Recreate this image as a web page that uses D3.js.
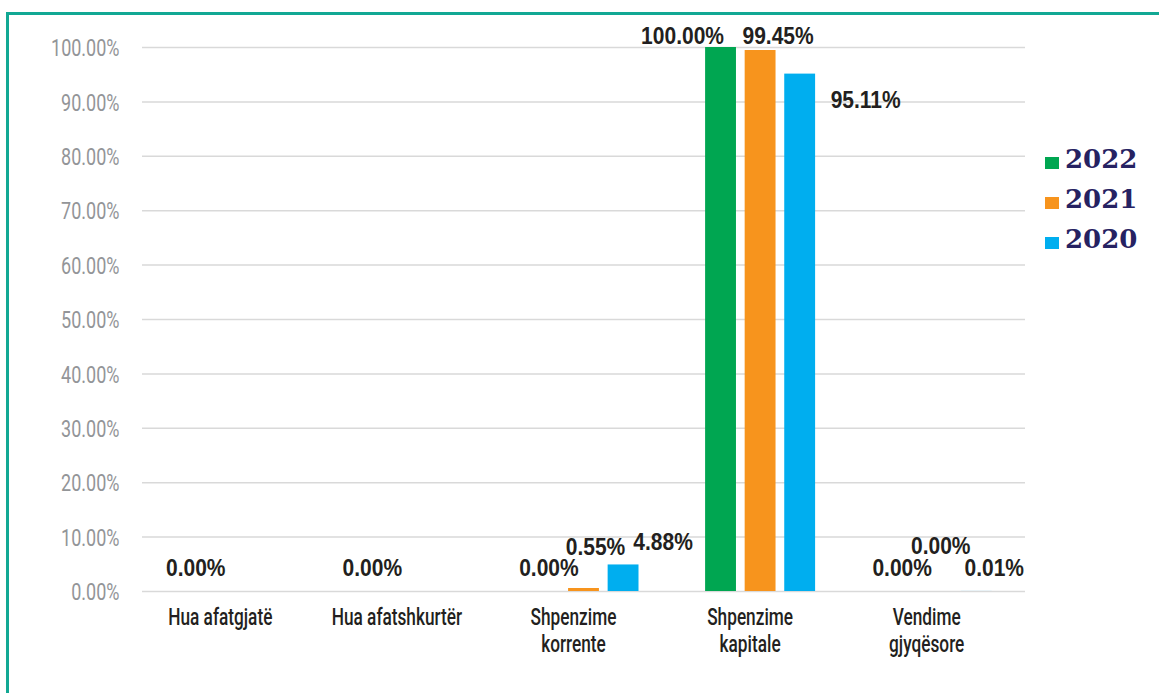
<!DOCTYPE html>
<html>
<head>
<meta charset="utf-8">
<script src="https://cdn.jsdelivr.net/npm/d3@7"></script>
<style>
    body { margin: 0; background: #fff; }
    .tick-label { font-family: "Roboto", sans-serif; font-size: 24px; fill: #939598; }
    .cat-label { font-family: "Roboto", sans-serif; font-weight: 500; font-size: 23px; fill: #231f20; }
    .value-label { font-family: "Liberation Sans", Arial, sans-serif; font-weight: bold; font-size: 24px; fill: #231f20; }
    .legend-text { font-family: "DejaVu Serif", serif; font-weight: bold; font-size: 26px; fill: #262262; }
</style>
</head>
<body>
<div id="chart"></div>
<script>
// data (percent)
var categories = [["Hua afatgjatë"], ["Hua afatshkurtër"], ["Shpenzime", "korrente"], ["Shpenzime", "kapitale"], ["Vendime", "gjyqësore"]]
var years = ["2022", "2021", "2020"]
var values2022 = [0, 0, 0, 100, 0]
var values2021 = [0, 0, 0.55, 99.45, 0]
var values2020 = [0, 0, 4.88, 95.11, 0.01]
var yTicks = [0, 10, 20, 30, 40, 50, 60, 70, 80, 90, 100]

// where the labels were dragged to in the original (px from default spot), null = hidden
var labelNudge = {
    "2022": [[5, -9], [5, -9], [5, -9], [-38, 3], [5, -9]],
    "2021": [null, null, [12, -27], [18, 0], [4, -31]],
    "2020": [null, null, [40, -8], [66, 40], [18, -9]]
}

// fonts here are wider than the condensed face in the original, squeeze them
var tickSqueeze = 0.75,
    catSqueeze = 0.75,
    valueSqueeze = 0.875

var config = { width: 1159, height: 693 }
var margin = { left: 142, right: 134, top: 47, bottom: 102 }
var width = config.width - margin.left - margin.right,
    height = config.height - margin.top - margin.bottom

var seriesValues = { "2022": values2022, "2021": values2021, "2020": values2020 }
var color = d3.scaleOrdinal()
    .domain(years)
    .range(["#00a651", "#f7941d", "#00aeef"])

var svg = d3.select("#chart")
    .append("svg")
        .attr("width", config.width)
        .attr("height", config.height)

// teal frame, right and bottom edges fall outside the picture
svg.append("rect")
    .attr("x", 7.5)
    .attr("y", 13.5)
    .attr("width", config.width + 20)
    .attr("height", config.height + 20)
    .attr("fill", "none")
    .attr("stroke", "#12a894")
    .attr("stroke-width", 3)

var g = svg.append("g")
    .attr("transform", "translate(" + margin.left + "," + margin.top + ")")

var x = d3.scaleBand()
    .domain(d3.range(categories.length))
    .range([0, width])

var xInner = d3.scaleBand()
    .domain(years)
    .range([x.bandwidth() / 2 - 55, x.bandwidth() / 2 + 55])
    .paddingInner(0.22)

var y = d3.scaleLinear()
    .domain([0, 100])
    .range([height, 0])

// grid
var y_axis_grid = d3.axisLeft(y).tickValues(yTicks).tickSize(-width).tickFormat("")
var grid = g.append("g").call(y_axis_grid)
grid.select(".domain").remove()
grid.selectAll("line").attr("stroke", "#d9d9d9").attr("stroke-width", 1.5)

// y tick labels
var y_axis = d3.axisLeft(y).tickValues(yTicks).tickSize(0)
    .tickFormat(function(d){ return d3.format(".2f")(d) + "%" })
var yAxisCall = g.append("g").call(y_axis)
yAxisCall.select(".domain").remove()
yAxisCall.selectAll("text")
    .attr("class", "tick-label")
    .attr("fill", null)
    .attr("font-size", null)
    .attr("font-family", null)
    .attr("x", -22.5 / tickSqueeze)
    .attr("dy", "0.36em")
    .attr("transform", "scale(" + tickSqueeze + ",1)")

// bars
var groups = g.selectAll("g.cat")
    .data(categories)
    .enter().append("g")
        .attr("class", "cat")
        .attr("transform", function(d, i){ return "translate(" + x(i) + ",0)" })

years.forEach(function(yr){
    groups.append("rect")
        .attr("x", xInner(yr))
        .attr("width", xInner.bandwidth())
        .attr("y", function(d, i){ return y(seriesValues[yr][i]) })
        .attr("height", function(d, i){ return height - y(seriesValues[yr][i]) })
        .attr("fill", color(yr))

    groups.filter(function(d, i){ return labelNudge[yr][i] })
        .append("text")
            .attr("class", "value-label")
            .attr("text-anchor", "middle")
            .attr("transform", function(d){
                var i = categories.indexOf(d)
                var lx = xInner(yr) + xInner.bandwidth() / 2 + labelNudge[yr][i][0]
                var ly = y(seriesValues[yr][i]) - 6 + labelNudge[yr][i][1]
                return "translate(" + lx + "," + ly + ") scale(" + valueSqueeze + ",1)"
            })
            .text(function(d){ var i = categories.indexOf(d); return d3.format(".2f")(seriesValues[yr][i]) + "%" })
})

// category labels, one text per line
groups.each(function(d){
    var cat = d3.select(this)
    d.forEach(function(line, j){
        cat.append("text")
            .attr("class", "cat-label")
            .attr("text-anchor", "middle")
            .attr("transform", "translate(" + (x.bandwidth() / 2 - 10) + "," + (height + 34 + j * 27) + ") scale(" + catSqueeze + ",1)")
            .text(line)
    })
})

// legend
var legendGroup = svg.append("g")
    .attr("transform", "translate(1045,157)")

years.forEach(function(yr, i){
    legendGroup.append("rect")
        .attr("x", 0)
        .attr("y", i * 40)
        .attr("width", 14)
        .attr("height", 12)
        .attr("fill", color(yr))

    legendGroup.append("text")
        .attr("class", "legend-text")
        .attr("x", 20)
        .attr("y", i * 40 + 11)
        .text(yr)
})
</script>
</body>
</html>
